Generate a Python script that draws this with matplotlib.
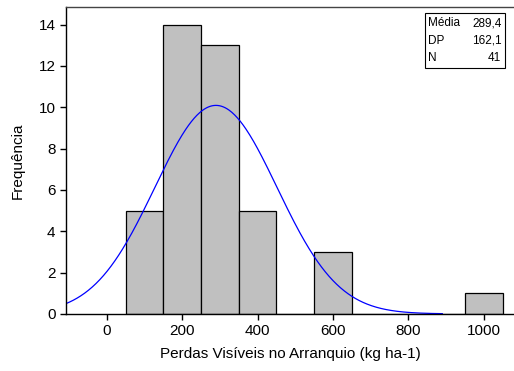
import numpy as np
import matplotlib.pyplot as plt
from matplotlib.patches import Rectangle

plt.rcParams['font.family'] = ['Liberation Sans', 'DejaVu Sans']

# histogram data (bin centres, counts)
bin_centers = [100, 200, 300, 400, 500, 600, 700, 800, 900, 1000]
counts = [5, 14, 13, 5, 0, 3, 0, 0, 0, 1]
bin_width = 100

# summary statistics shown in the box
media = 289.4
dp = 162.1
n = 41

fig = plt.figure(figsize=(5.14, 3.71), dpi=100)
# right spine falls just outside the canvas, as in the reference
ax = fig.add_axes([0.128, 0.154, 0.8755, 0.827])

ax.bar(bin_centers, counts, width=bin_width, color='#c0c0c0',
       edgecolor='black', linewidth=0.9)

# fitted normal curve
xlim = (-109, 1085)
xs = np.linspace(xlim[0], 890, 400)
ys = n * bin_width / (dp * np.sqrt(2 * np.pi)) * np.exp(-0.5 * ((xs - media) / dp) ** 2)
ax.plot(xs, ys, color='#0000ff', linewidth=0.9)

ax.set_xlim(*xlim)
ax.set_ylim(0, 14.85)
ax.set_xticks([0, 200, 400, 600, 800, 1000])
ax.set_yticks([0, 2, 4, 6, 8, 10, 12, 14])
ax.tick_params(labelsize=11, direction='out', length=4, width=1)
ax.set_xlabel('Perdas Visíveis no Arranquio (kg ha-1)', fontsize=11, labelpad=6)
ax.set_ylabel('Frequência', fontsize=11, labelpad=10)
for s in ax.spines.values():
    s.set_linewidth(1)
ax.spines['top'].set_color('#444444')

# stats box
ax.add_patch(Rectangle((0.798, 0.801), 0.178, 0.179, transform=ax.transAxes,
                       facecolor='white', edgecolor='black', linewidth=0.8, zorder=5))
rows = [('Média', '289,4'), ('DP', '162,1'), ('N', '41')]
for i, (k, v) in enumerate(rows):
    yy = 0.947 - i * 0.057
    ax.text(0.806, yy, k, transform=ax.transAxes, fontsize=8.5, va='center', zorder=6)
    ax.text(0.968, yy, v, transform=ax.transAxes, fontsize=8.5, va='center',
            ha='right', zorder=6)

fig.savefig('out.png', dpi=100)
